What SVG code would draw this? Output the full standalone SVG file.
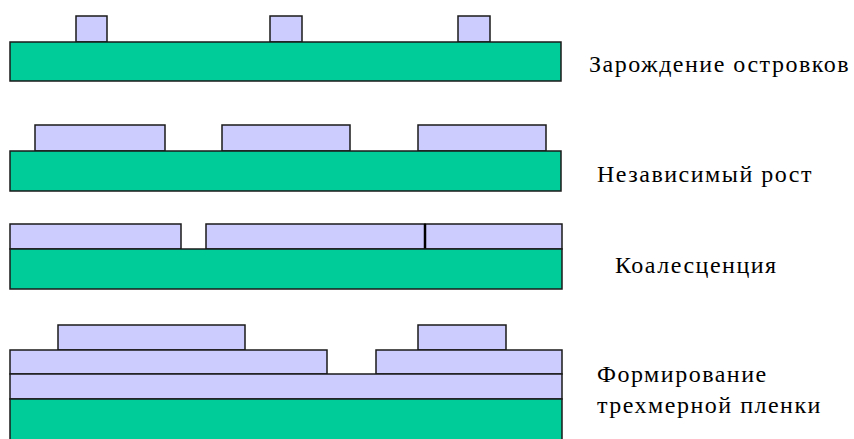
<svg xmlns="http://www.w3.org/2000/svg" width="854" height="439" viewBox="0 0 854 439">
  <style>
    .sub { fill: #00CC99; stroke: #1a1a1a; stroke-width: 1.5; }
    .film { fill: #CCCCFF; stroke: #1a1a1a; stroke-width: 1.5; }
    .lbl { font-family: 'Liberation Serif', 'Times New Roman', 'Noto Serif', 'DejaVu Serif', serif; font-size: 24px; letter-spacing: 1.5px; fill: #000; }
  </style>
  <rect width="854" height="439" fill="#ffffff"/>

  <!-- Stage 1: island nucleation -->
  <g id="stage1">
    <rect class="film" x="76" y="16" width="31" height="26"/>
    <rect class="film" x="270" y="16" width="32" height="26"/>
    <rect class="film" x="458" y="16" width="32" height="26"/>
    <rect class="sub" x="10" y="42" width="551" height="39"/>
    <text class="lbl" x="589" y="72">Зарождение островков</text>
  </g>

  <!-- Stage 2: independent growth -->
  <g id="stage2">
    <rect class="film" x="35" y="125" width="130" height="26"/>
    <rect class="film" x="222" y="125" width="128" height="26"/>
    <rect class="film" x="418" y="125" width="128" height="26"/>
    <rect class="sub" x="10" y="151" width="551" height="40"/>
    <text class="lbl" x="597" y="182">Независимый рост</text>
  </g>

  <!-- Stage 3: coalescence -->
  <g id="stage3">
    <rect class="film" x="10" y="224" width="171" height="25"/>
    <rect class="film" x="206" y="224" width="219" height="25"/>
    <rect class="film" x="425" y="224" width="137" height="25"/>
    <line x1="425" y1="224" x2="425" y2="249" stroke="#000" stroke-width="2.5"/>
    <rect class="sub" x="10" y="249" width="552" height="40"/>
    <text class="lbl" x="615" y="273">Коалесценция</text>
  </g>

  <!-- Stage 4: three-dimensional film -->
  <g id="stage4">
    <rect class="film" x="58" y="325" width="187" height="25"/>
    <rect class="film" x="418" y="325" width="88" height="25"/>
    <rect class="film" x="10" y="350" width="317" height="24"/>
    <rect class="film" x="376" y="350" width="186" height="24"/>
    <rect class="film" x="10" y="374" width="552" height="25"/>
    <rect class="sub" x="10" y="399" width="552" height="46"/>
    <text class="lbl" x="597" y="382">Формирование</text>
    <text class="lbl" x="597" y="413">трехмерной пленки</text>
  </g>
</svg>
